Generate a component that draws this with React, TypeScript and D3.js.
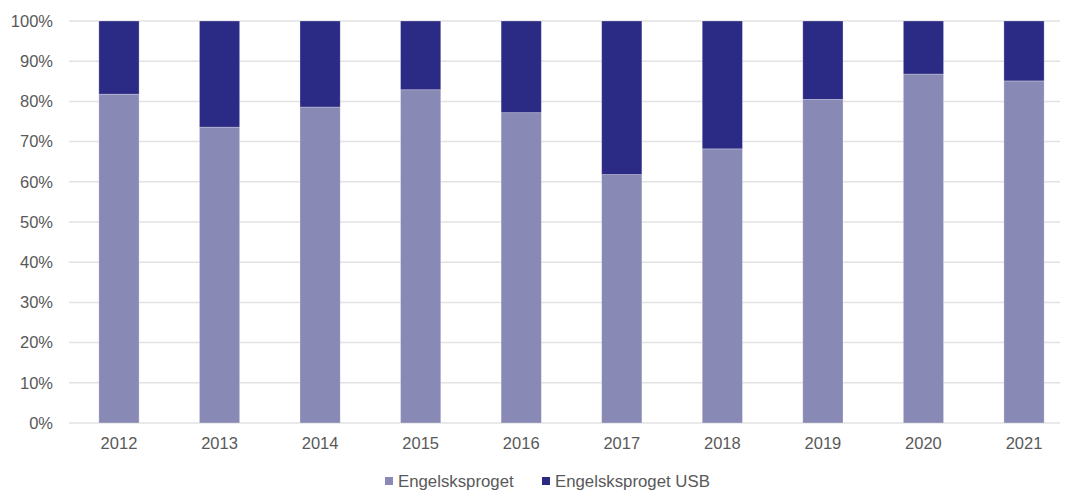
import React, { useEffect, useRef } from 'react';
import * as d3 from 'd3';

const years = ['2012', '2013', '2014', '2015', '2016', '2017', '2018', '2019', '2020', '2021'];
const engelsk = [81.8, 73.6, 78.6, 82.9, 77.2, 61.8, 68.2, 80.5, 86.8, 85.1];
const engelskUsb = engelsk.map(v => 100 - v);
const seriesNames = ['Engelsksproget', 'Engelsksproget USB'];
const seriesColors = ['#8889b5', '#2b2a84'];
const yTicks = [0, 10, 20, 30, 40, 50, 60, 70, 80, 90, 100];

const App: React.FC = () => {
  const svgRef = useRef<SVGSVGElement>(null);

  useEffect(() => {
    if (!svgRef.current) return;
    const svg = d3.select(svgRef.current);
    svg.selectAll('*').remove();

    const width = 1066;
    const height = 492;
    const font = '"Liberation Sans", Arial, sans-serif';

    const y = d3.scaleLinear().domain([0, 100]).range([423, 21]);
    const x = d3.scaleBand<string>()
      .domain(years)
      .range([68.7, 1074.3])
      .paddingInner(0.6)
      .paddingOuter(0.3);

    // Gridlines
    svg.append('g')
      .selectAll('line')
      .data(yTicks)
      .enter().append('line')
      .attr('x1', 69)
      .attr('x2', 1060)
      .attr('y1', d => y(d))
      .attr('y2', d => y(d))
      .style('stroke', '#e2e2e2')
      .style('stroke-width', 1.5);

    // Y labels
    svg.append('g')
      .selectAll('text')
      .data(yTicks)
      .enter().append('text')
      .attr('x', 53)
      .attr('y', d => y(d))
      .attr('dy', '0.35em')
      .style('text-anchor', 'end')
      .style('font-family', font)
      .style('font-size', '16.5px')
      .style('fill', '#595959')
      .text(d => `${d}%`);

    // Stacked bars
    const rows = years.map((yr, i) => ({ year: yr, a: engelsk[i], b: engelskUsb[i] }));
    const stack = d3.stack<any>().keys(['a', 'b']);
    const stacked = stack(rows);

    svg.append('g')
      .selectAll('g')
      .data(stacked)
      .enter().append('g')
      .style('fill', (_, i) => seriesColors[i])
      .selectAll('rect')
      .data(d => d)
      .enter().append('rect')
      .attr('x', d => x(d.data.year)!)
      .attr('width', x.bandwidth())
      .attr('y', d => y(d[1]))
      .attr('height', d => y(d[0]) - y(d[1]))
      .style('stroke', 'rgba(255,255,255,0.35)')
      .style('stroke-width', 0.8);

    // X labels
    svg.append('g')
      .selectAll('text')
      .data(years)
      .enter().append('text')
      .attr('x', d => x(d)! + x.bandwidth() / 2)
      .attr('y', 443)
      .attr('dy', '0.35em')
      .style('text-anchor', 'middle')
      .style('font-family', font)
      .style('font-size', '16.5px')
      .style('fill', '#595959')
      .text(d => d);

    // Legend
    const legendX = [385, 542];
    const legend = svg.append('g');
    seriesNames.forEach((name, i) => {
      legend.append('rect')
        .attr('x', legendX[i])
        .attr('y', 477)
        .attr('width', 8)
        .attr('height', 8)
        .style('fill', seriesColors[i]);
      legend.append('text')
        .attr('x', legendX[i] + 13)
        .attr('y', 481)
        .attr('dy', '0.35em')
        .style('font-family', font)
        .style('font-size', '16.8px')
        .style('fill', '#595959')
        .text(name);
    });

    svg.attr('width', width).attr('height', height);
  }, []);

  return (
    <svg
      ref={svgRef}
      width={1066}
      height={492}
      style={{ position: 'absolute', left: 0, top: 0, background: '#fff' }}
    />
  );
};

export default App;
